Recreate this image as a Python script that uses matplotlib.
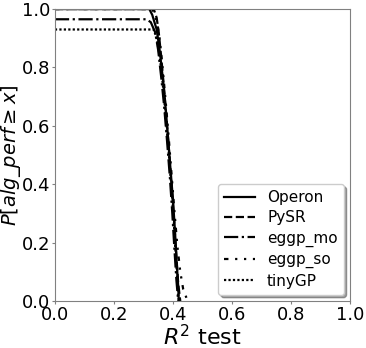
import matplotlib
matplotlib.use("Agg")
import matplotlib.pyplot as plt

# ── survival curves P[alg_perf >= x] ─────────────────────────────────────────
operon_x = [0.0, 0.32, 0.33, 0.345, 0.355, 0.365, 0.373, 0.382, 0.392, 0.40, 0.407, 0.413, 0.418, 0.42]
operon_y = [1.0, 1.0, 0.98, 0.93, 0.86, 0.77, 0.69, 0.58, 0.45, 0.35, 0.24, 0.13, 0.05, 0.0]

pysr_x = [0.0, 0.335, 0.345, 0.352, 0.36, 0.368, 0.378, 0.388, 0.397, 0.405, 0.412, 0.418, 0.425]
pysr_y = [1.0, 1.0, 0.97, 0.92, 0.84, 0.75, 0.63, 0.50, 0.38, 0.26, 0.15, 0.06, 0.0]

eggp_mo_x = [0.0, 0.31, 0.325, 0.34, 0.35, 0.36, 0.37, 0.38, 0.39, 0.398, 0.405, 0.412, 0.418]
eggp_mo_y = [0.965, 0.965, 0.955, 0.92, 0.86, 0.77, 0.67, 0.55, 0.42, 0.30, 0.18, 0.07, 0.0]

eggp_so_x = [0.0, 0.33, 0.345, 0.355, 0.365, 0.375, 0.385, 0.395, 0.405, 0.415, 0.425, 0.435, 0.45]
eggp_so_y = [1.0, 1.0, 0.96, 0.90, 0.80, 0.69, 0.57, 0.44, 0.31, 0.19, 0.10, 0.04, 0.0]

tinygp_x = [0.0, 0.335, 0.345, 0.355, 0.365, 0.375, 0.385, 0.395, 0.403, 0.41, 0.416, 0.42]
tinygp_y = [0.93, 0.93, 0.90, 0.84, 0.75, 0.64, 0.52, 0.39, 0.27, 0.15, 0.06, 0.0]

series = [
    ("Operon", operon_x, operon_y, "-"),
    ("PySR", pysr_x, pysr_y, "--"),
    ("eggp_mo", eggp_mo_x, eggp_mo_y, "-."),
    ("eggp_so", eggp_so_x, eggp_so_y, (0, (2, 3, 1, 3, 1, 3))),
    ("tinyGP", tinygp_x, tinygp_y, (0, (1, 1))),
]

ticks = [0.0, 0.2, 0.4, 0.6, 0.8, 1.0]

fig = plt.figure(figsize=(3.66, 3.48), dpi=100)
ax = fig.add_axes([0.150, 0.135, 0.806, 0.839])

for name, xs, ys, ls in series:
    ax.plot(xs, ys, color="black", linestyle=ls, lw=1.6, label=name)

ax.set_xlim(0, 1)
ax.set_ylim(0, 1)
ax.set_xticks(ticks)
ax.set_yticks(ticks)
ax.tick_params(labelsize=13, length=2, pad=1.5, color="0.5")
for sp in ax.spines.values():
    sp.set_color("0.5")

ax.set_xlabel(r"$R^2$ test", fontsize=16, labelpad=0)
ax.set_ylabel(r"$P[alg\_perf \geq x]$", fontsize=14)
ax.yaxis.set_label_coords(-0.108, 0.5)

ax.legend(loc="lower right", fontsize=11, shadow=True, handlelength=2.0,
          borderaxespad=0.4, labelspacing=0.35)

fig.savefig("out.png", dpi=100)
